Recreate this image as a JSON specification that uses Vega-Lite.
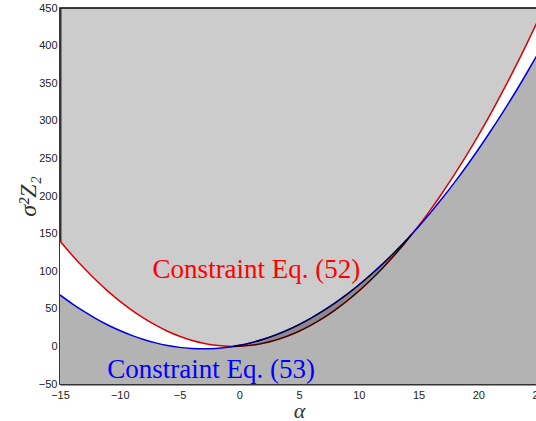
{
  "$schema": "https://vega.github.io/schema/vega-lite/v6.json",
  "autosize": {"type": "none"},
  "width": 478,
  "height": 376,
  "padding": {"left": 60, "top": 8, "right": 0, "bottom": 37},
  "background": "white",
  "config": {
    "view": {"fill": "#cccccc", "stroke": "#000000", "strokeWidth": 1.5},
    "axis": {"labelFont": "Liberation Sans", "labelFontSize": 11, "labelColor": "#222222", "ticks": false, "grid": false, "domainColor": "#333333", "domainWidth": 2, "labelOverlap": false, "labelFlush": false, "labelBound": false, "labelSeparation": 0, "titleFont": "Liberation Serif", "titleFontStyle": "italic", "titleFontWeight": "normal", "titleColor": "#333333"},
    "axisY": {"values": [-50, 0, 50, 100, 150, 200, 250, 300, 350, 400, 450], "labelOverlap": false, "labelPadding": 3, "titleFontSize": 24, "titlePadding": -2, "tickCount": 11}
  },
  "data": {
    "values": [
      {"x": -15, "red": 140.2, "blue": 68.4, "seg": "L"},
      {"x": -14, "red": 121.6, "blue": 56.9, "seg": "L"},
      {"x": -13, "red": 104.2, "blue": 46.5, "seg": "L"},
      {"x": -12, "red": 88.2, "blue": 37.0, "seg": "L"},
      {"x": -11, "red": 73.5, "blue": 28.5, "seg": "L"},
      {"x": -10, "red": 60.2, "blue": 21.1, "seg": "L"},
      {"x": -9, "red": 48.2, "blue": 14.6, "seg": "L"},
      {"x": -8, "red": 37.5, "blue": 9.1, "seg": "L"},
      {"x": -7, "red": 28.2, "blue": 4.7, "seg": "L"},
      {"x": -6, "red": 20.2, "blue": 1.2, "seg": "L"},
      {"x": -5, "red": 13.5, "blue": -1.3, "seg": "L"},
      {"x": -4, "red": 8.2, "blue": -2.7, "seg": "L"},
      {"x": -3, "red": 4.2, "blue": -3.2, "seg": "L"},
      {"x": -2, "red": 1.5, "blue": -2.7, "seg": "L"},
      {"x": -1, "red": 0.17, "blue": -1.14, "seg": "L"},
      {"x": -0.5, "red": 0.0, "blue": 0.0, "seg": "L"},
      {"x": -0.5, "red": 0.0, "blue": 0.0, "seg": "M"},
      {"x": 0, "red": 0.17, "blue": 1.39, "seg": "M"},
      {"x": 1, "red": 1.5, "blue": 4.9, "seg": "M"},
      {"x": 2, "red": 4.2, "blue": 9.4, "seg": "M"},
      {"x": 3, "red": 8.2, "blue": 15.0, "seg": "M"},
      {"x": 4, "red": 13.5, "blue": 21.5, "seg": "M"},
      {"x": 5, "red": 20.2, "blue": 29.0, "seg": "M"},
      {"x": 6, "red": 28.2, "blue": 37.5, "seg": "M"},
      {"x": 7, "red": 37.5, "blue": 47.1, "seg": "M"},
      {"x": 8, "red": 48.2, "blue": 57.6, "seg": "M"},
      {"x": 9, "red": 60.2, "blue": 69.1, "seg": "M"},
      {"x": 10, "red": 73.5, "blue": 81.6, "seg": "M"},
      {"x": 11, "red": 88.2, "blue": 95.2, "seg": "M"},
      {"x": 12, "red": 104.2, "blue": 109.7, "seg": "M"},
      {"x": 13, "red": 121.6, "blue": 125.2, "seg": "M"},
      {"x": 14, "red": 140.2, "blue": 141.7, "seg": "M"},
      {"x": 14.4, "red": 148.4, "blue": 148.4, "seg": "M"},
      {"x": 14.4, "red": 148.4, "blue": 148.4, "seg": "R"},
      {"x": 15, "red": 160.2, "blue": 159.2, "seg": "R"},
      {"x": 16, "red": 181.6, "blue": 177.8, "seg": "R"},
      {"x": 17, "red": 204.3, "blue": 197.3, "seg": "R"},
      {"x": 18, "red": 228.3, "blue": 217.8, "seg": "R"},
      {"x": 19, "red": 253.6, "blue": 239.3, "seg": "R"},
      {"x": 20, "red": 280.3, "blue": 261.8, "seg": "R"},
      {"x": 21, "red": 308.3, "blue": 285.4, "seg": "R"},
      {"x": 22, "red": 337.7, "blue": 309.9, "seg": "R"},
      {"x": 23, "red": 368.3, "blue": 335.3, "seg": "R"},
      {"x": 24, "red": 400.4, "blue": 361.9, "seg": "R"},
      {"x": 25, "red": 433.7, "blue": 389.4, "seg": "R"}
    ]
  },
  "encoding": {
    "x": {"field": "x", "type": "quantitative", "scale": {"domain": [-15, 25], "nice": false, "zero": false},
      "axis": {"values": [-15, -10, -5, 0, 5, 10, 15, 20, 25], "labelOverlap": false, "labelPadding": 5, "title": "α", "titleFontSize": 22, "titlePadding": 0}}
  },
  "layer": [
    {
      "mark": {"type": "area", "color": "#b3b3b3", "clip": true, "interpolate": "monotone"},
      "encoding": {
        "y": {"field": "blue", "type": "quantitative", "stack": null, "scale": {"domain": [-50, 450], "nice": false, "zero": false},
          "axis": {"title": "σ²Z₂", "labelOverlap": false}},
        "y2": {"datum": -50}
      }
    },
    {
      "mark": {"type": "area", "clip": true, "interpolate": "monotone", "opacity": 1},
      "encoding": {
        "y": {"field": "red", "type": "quantitative", "stack": null, "axis": {"title": "σ²Z₂", "labelOverlap": false}},
        "y2": {"field": "blue"},
        "color": {"field": "seg", "type": "nominal", "legend": null, "scale": {"domain": ["L", "M", "R"], "range": ["#ffffff", "#8a8a8a", "#ffffff"]}}
      }
    },
    {
      "mark": {"type": "line", "color": "#dd0000", "strokeWidth": 1.5, "clip": true, "interpolate": "monotone"},
      "encoding": {"y": {"field": "red", "type": "quantitative", "axis": {"title": "σ²Z₂", "labelOverlap": false}}}
    },
    {
      "mark": {"type": "line", "color": "#0000dd", "strokeWidth": 1.5, "clip": true, "interpolate": "monotone"},
      "encoding": {"y": {"field": "blue", "type": "quantitative", "axis": {"title": "σ²Z₂", "labelOverlap": false}}}
    },
    {
      "transform": [{"filter": "datum.seg === 'M'"}],
      "mark": {"type": "line", "color": "#111111", "strokeWidth": 1.2, "clip": true, "interpolate": "monotone"},
      "encoding": {"y": {"field": "red", "type": "quantitative", "axis": {"title": "σ²Z₂", "labelOverlap": false}}}
    },
    {
      "transform": [{"filter": "datum.seg === 'M'"}],
      "mark": {"type": "line", "color": "#000033", "strokeWidth": 1.2, "clip": true, "interpolate": "monotone"},
      "encoding": {"y": {"field": "blue", "type": "quantitative", "axis": {"title": "σ²Z₂", "labelOverlap": false}}}
    },
    {
      "data": {"values": [
        {"tx": -7.25, "ty": 91, "label": "Constraint Eq. (52)", "c": "r"},
        {"tx": -11.05, "ty": -42, "label": "Constraint Eq. (53)", "c": "b"}
      ]},
      "mark": {"type": "text", "align": "left", "baseline": "alphabetic", "font": "Liberation Serif", "fontSize": 27},
      "encoding": {
        "x": {"field": "tx", "type": "quantitative"},
        "y": {"field": "ty", "type": "quantitative", "axis": {"title": "σ²Z₂", "labelOverlap": false}},
        "text": {"field": "label"},
        "color": {"field": "c", "type": "nominal", "legend": null, "scale": {"domain": ["r", "b"], "range": ["#ff0000", "#0000ff"]}}
      }
    }
  ],
  "resolve": {"scale": {"color": "independent"}}
}
